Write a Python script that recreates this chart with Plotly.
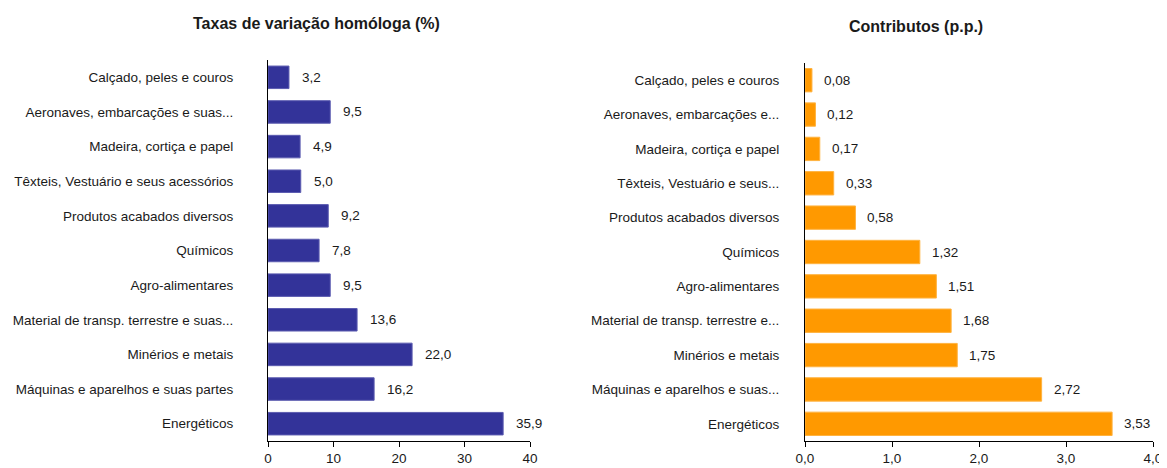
import plotly.graph_objects as go

categories_left = [
    "Calçado, peles e couros",
    "Aeronaves, embarcações e suas...",
    "Madeira, cortiça e papel",
    "Têxteis, Vestuário e seus acessórios",
    "Produtos acabados diversos",
    "Químicos",
    "Agro-alimentares",
    "Material de transp. terrestre e suas...",
    "Minérios e metais",
    "Máquinas e aparelhos e suas partes",
    "Energéticos",
]
categories_right = [
    "Calçado, peles e couros",
    "Aeronaves, embarcações e...",
    "Madeira, cortiça e papel",
    "Têxteis, Vestuário e seus...",
    "Produtos acabados diversos",
    "Químicos",
    "Agro-alimentares",
    "Material de transp. terrestre e...",
    "Minérios e metais",
    "Máquinas e aparelhos e suas...",
    "Energéticos",
]
taxas = [3.2, 9.5, 4.9, 5.0, 9.2, 7.8, 9.5, 13.6, 22.0, 16.2, 35.9]
contributos = [0.08, 0.12, 0.17, 0.33, 0.58, 1.32, 1.51, 1.68, 1.75, 2.72, 3.53]

left_ticks = [0, 10, 20, 30, 40]
right_ticks = [0, 1, 2, 3, 4]

title_left = "Taxas de variação homóloga (%)"
title_right = "Contributos (p.p.)"

FONT = "Liberation Sans, Arial, sans-serif"
TXT = "#1a1a1a"
# page has an 8px body margin; figure coordinates are page coordinates - 8
OFF = 8
W, H = 1167 - OFF, 468 - OFF
TOP, BOT = 60 - OFF, 441 - OFF
MT, MB = TOP, H - BOT
PH = H - MT - MB

fig = go.Figure()
fig.add_trace(go.Bar(
    x=taxas, y=categories_left, orientation="h",
    marker=dict(color="#333399", line=dict(color="#5c5cb0", width=1)),
    width=0.65, xaxis="x", yaxis="y", hoverinfo="x+y",
))
fig.add_trace(go.Bar(
    x=contributos, y=categories_right, orientation="h",
    marker=dict(color="#FF9900", line=dict(color="#ffb340", width=1)),
    width=0.68, xaxis="x2", yaxis="y2", hoverinfo="x+y",
))

annotations = []
for c, v in zip(categories_left, taxas):
    annotations.append(dict(x=v, y=c, xref="x", yref="y",
                            text=f"{v:.1f}".replace(".", ","),
                            showarrow=False, xanchor="left", xshift=11,
                            font=dict(family=FONT, size=13.5, color=TXT)))
for c, v in zip(categories_right, contributos):
    annotations.append(dict(x=v, y=c, xref="x2", yref="y2",
                            text=f"{v:.2f}".replace(".", ","),
                            showarrow=False, xanchor="left", xshift=10,
                            font=dict(family=FONT, size=13.5, color=TXT)))
annotations.append(dict(x=(316 - OFF) / W, y=1 + (TOP - (23 - OFF)) / PH,
                        xref="paper", yref="paper",
                        text=f"<b>{title_left}</b>", showarrow=False,
                        xanchor="center", yanchor="middle",
                        font=dict(family=FONT, size=16, color=TXT)))
annotations.append(dict(x=(916 - OFF) / W, y=1 + (TOP - (27 - OFF)) / PH,
                        xref="paper", yref="paper",
                        text=f"<b>{title_right}</b>", showarrow=False,
                        xanchor="center", yanchor="middle",
                        font=dict(family=FONT, size=16, color=TXT)))

axis_common = dict(showline=True, linecolor="black", linewidth=1,
                   showgrid=False, zeroline=False, automargin=False,
                   tickfont=dict(family=FONT, size=13.5, color=TXT))

fig.update_layout(
    template="none",
    width=W, height=H,
    margin=dict(l=0, r=0, t=MT, b=MB, pad=0),
    paper_bgcolor="white", plot_bgcolor="white",
    showlegend=False, separators=",.",
    font=dict(family=FONT, size=13.5, color=TXT),
    annotations=annotations,
    xaxis=dict(domain=[(268 - OFF) / W, (530 - OFF) / W], range=[0, 40],
               tickvals=left_ticks, ticks="outside", ticklen=5,
               tickcolor="black", anchor="y", **axis_common),
    yaxis=dict(domain=[0, 1], autorange="reversed", anchor="x",
               ticks="", ticklabelstandoff=31, **axis_common),
    xaxis2=dict(domain=[(805 - OFF) / W, (1153 - OFF) / W], range=[0, 4],
                tickvals=right_ticks, tickformat=".1f", ticks="outside",
                ticklen=5, tickcolor="black", anchor="y2", **axis_common),
    yaxis2=dict(domain=[0, (BOT - (63 - OFF)) / PH], autorange="reversed",
                anchor="x2", ticks="", ticklabelstandoff=22, **axis_common),
)

fig.write_html("out.html")
